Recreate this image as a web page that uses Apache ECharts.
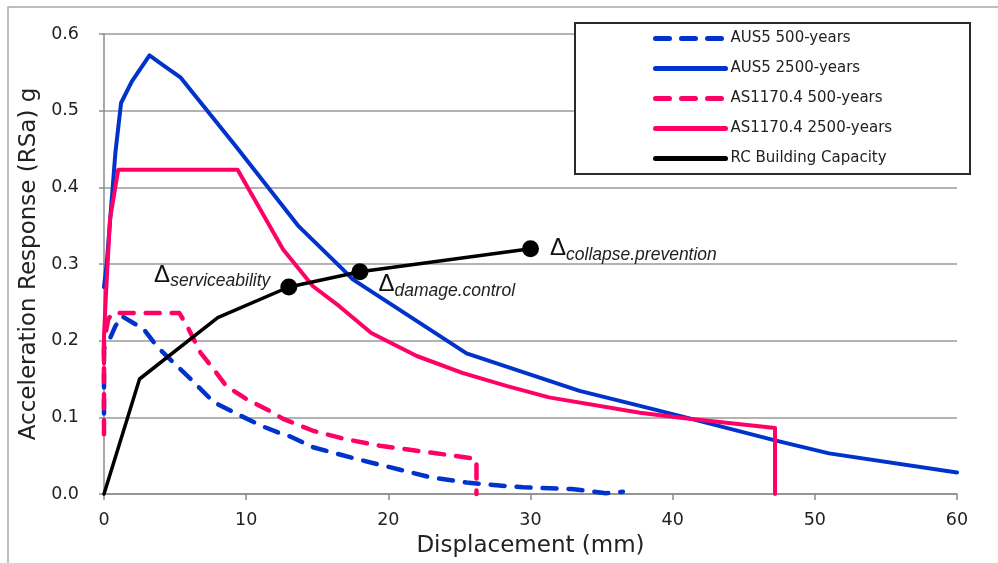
<!DOCTYPE html>
<html>
<head>
<meta charset="utf-8">
<script src="https://cdn.jsdelivr.net/npm/echarts@6/dist/echarts.min.js"></script>
<style>html,body{margin:0;padding:0;background:#fff}#c{width:998px;height:563px}</style>
</head>
<body>
<div id="c"></div>
<script>
const seriesNames = ['AUS5 500-years','AUS5 2500-years','AS1170.4 500-years','AS1170.4 2500-years','RC Building Capacity'];
const aus5_500 = [[0,0.105],[0,0.19],[0.35,0.2],[0.8,0.219],[1.25,0.232],[2.8,0.215],[3.7,0.193],[4.9,0.171],[6.1,0.15],[7.7,0.12],[9.4,0.104],[11.2,0.088],[12.3,0.08],[13.1,0.075],[14.7,0.061],[17.7,0.046],[20.1,0.035],[22.9,0.022],[25.5,0.015],[27.8,0.011],[29.5,0.0087],[32.9,0.0065],[35.3,0.001],[36.5,0.003]];
const aus5_2500 = [[0,0.27],[0.19,0.3],[0.8,0.445],[1.2,0.51],[1.95,0.538],[3.2,0.572],[4.1,0.56],[5.4,0.543],[9.3,0.453],[13.7,0.349],[16.8,0.293],[17.5,0.28],[25.5,0.1835],[33.45,0.1345],[37.7,0.115],[40.7,0.101],[47.2,0.07],[51,0.053],[60,0.028]];
const as1170_500 = [[0,0.078],[0,0.198],[0.3,0.228],[0.6,0.236],[5.3,0.236],[5.85,0.219],[6.8,0.184],[7.7,0.163],[8.6,0.141],[10,0.124],[11.7,0.108],[12.6,0.098],[14.7,0.0825],[17,0.0715],[19.4,0.063],[22.2,0.056],[25,0.049],[26.2,0.0455],[26.2,0]];
const as1170_2500 = [[0,0.17],[0,0.206],[0.12,0.254],[0.42,0.358],[1.0,0.423],[9.4,0.423],[12.6,0.319],[14.7,0.271],[16.55,0.245],[18.8,0.21],[22,0.18],[25.2,0.158],[28.3,0.141],[31.3,0.126],[37.7,0.106],[40.7,0.099],[47.2,0.086],[47.2,0]];
const rcCapacity = [[0,0],[2.5,0.15],[8,0.23],[13,0.27],[18,0.29],[30,0.32]];
const limitPoints = [[13,0.27],[18,0.29],[30,0.32]];
const limitNames = ['serviceability','damage.control','collapse.prevention'];

const chart = echarts.init(document.getElementById('c'));
const BLUE = '#0033CC', PINK = '#FF0066';
const FONT = 'DejaVu Sans';
const dash = [14, 12];
const richLbl = {
  d: {fontFamily: 'Liberation Sans', fontSize: 24, lineHeight: 30, verticalAlign: 'middle', color: '#111'},
  s: {fontFamily: 'Liberation Sans', fontSize: 17.5, fontStyle: 'italic', lineHeight: 17, verticalAlign: 'bottom', color: '#222'}
};
const labelCfg = [
  {position: 'left', distance: 10, offset: [0, -12]},
  {position: 'right', distance: 10, offset: [0, 13]},
  {position: 'right', distance: 11, offset: [0, 0]}
];
function lineSeries(name, data, color, type, width) {
  return {
    name: name, type: 'line', data: data, symbol: 'none', showSymbol: false,
    lineStyle: {color: color, width: width, type: type, cap: 'round', join: 'round'},
    itemStyle: {color: color}, animation: false, clip: false
  };
}
chart.setOption({
  animation: false,
  grid: {left: 104, right: 41, top: 34, bottom: 68},
  xAxis: {
    type: 'value', min: 0, max: 60, interval: 10,
    name: 'Displacement (mm)', nameLocation: 'middle', nameGap: 41,
    nameTextStyle: {fontFamily: FONT, fontSize: 23, color: '#222'},
    axisLine: {lineStyle: {color: '#8c8c8c', width: 1.5}},
    axisTick: {show: true, length: 6, lineStyle: {color: '#8c8c8c', width: 1.5}},
    axisLabel: {fontFamily: FONT, fontSize: 17.5, color: '#222', margin: 17},
    splitLine: {show: false}
  },
  yAxis: {
    type: 'value', min: 0, max: 0.6, interval: 0.1,
    name: 'Acceleration Response (RSa) g', nameLocation: 'middle', nameGap: 54,
    nameTextStyle: {fontFamily: FONT, fontSize: 23, color: '#222'},
    axisLine: {show: true, lineStyle: {color: '#8c8c8c', width: 1.5}},
    axisTick: {show: true, length: 5, lineStyle: {color: '#8c8c8c', width: 1.5}},
    axisLabel: {fontFamily: FONT, fontSize: 17.5, color: '#222', margin: 25, formatter: v => v.toFixed(1)},
    splitLine: {lineStyle: {color: '#9a9a9a', width: 1.5}}
  },
  legend: {
    orient: 'vertical', left: 648, top: 26, z: 20,
    data: seriesNames,
    itemWidth: 70, itemHeight: 14, itemGap: 15,
    itemStyle: {opacity: 0},
    lineStyle: {width: 5, cap: 'round'},
    textStyle: {fontFamily: FONT, fontSize: 15, color: '#222'},
    selectedMode: false
  },
  graphic: [
    {type: 'rect', z: 1, silent: true, shape: {x: 8, y: 7, width: 1020, height: 600}, style: {fill: 'none', stroke: '#a8a8a8', lineWidth: 1.5}},
    {type: 'rect', z: 10, silent: true, shape: {x: 575, y: 23, width: 395, height: 151}, style: {fill: '#fff', stroke: '#2a2a2a', lineWidth: 2}}
  ],
  series: [
    lineSeries(seriesNames[0], aus5_500, BLUE, dash, 4.5),
    lineSeries(seriesNames[1], aus5_2500, BLUE, 'solid', 4),
    lineSeries(seriesNames[2], as1170_500, PINK, dash, 4.5),
    lineSeries(seriesNames[3], as1170_2500, PINK, 'solid', 4),
    lineSeries(seriesNames[4], rcCapacity, '#000', 'solid', 3.5),
    {
      name: 'limits', type: 'scatter', symbol: 'circle', symbolSize: 17, z: 5,
      itemStyle: {color: '#000', opacity: 1},
      emphasis: {disabled: true},
      data: limitPoints.map((p, i) => ({
        value: p,
        label: {show: true, position: labelCfg[i].position, distance: labelCfg[i].distance, offset: labelCfg[i].offset,
          formatter: '{d|\u0394}{s|' + limitNames[i] + '}', rich: richLbl}
      }))
    }
  ]
});
</script>
</body>
</html>
